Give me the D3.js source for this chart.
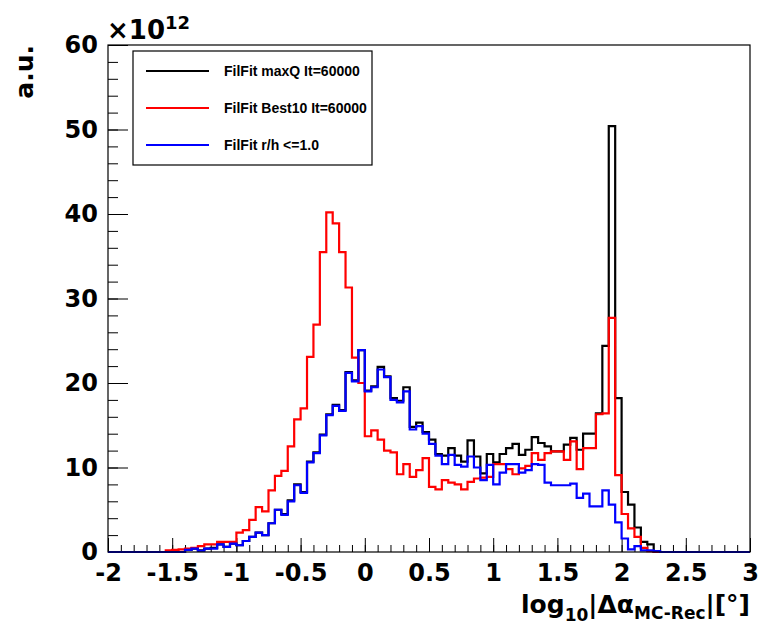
<!DOCTYPE html>
<html>
<head>
<meta charset="utf-8">
<script src="https://cdn.jsdelivr.net/npm/d3@7"></script>
<style>
  body { margin: 0; background: #fff; }
  text { font-weight: bold; }
</style>
</head>
<body>
<div id="chart"></div>
<script>
// binning of the histograms: 100 bins from -2 to 3
const xMin = -2, xMax = 3, nBins = 100;
const xTicks = [-2, -1.5, -1, -0.5, 0, 0.5, 1, 1.5, 2, 2.5, 3];
const yTicks = [0, 10, 20, 30, 40, 50, 60];
const seriesNames = ["FilFit maxQ It=60000", "FilFit Best10 It=60000", "FilFit r/h <=1.0"];
const seriesColors = ["#000000", "#ff0000", "#0000ff"];

// bin contents in units of 1e12
const maxQ = [
  0, 0, 0, 0, 0, 0, 0, 0, 0, 0,
  0, 0, 0.25, 0.4, 0.2, 0.4, 0.5, 0.9, 0.6, 1.0,
  0.8, 1.3, 1.8, 2.3, 2.0, 3.4, 5.0, 4.5, 6.1, 8.0,
  7.1, 10.7, 11.8, 13.9, 16.3, 17.4, 16.8, 21.3, 20.3, 23.9,
  19.1, 19.6, 21.9, 20.8, 18.2, 17.9, 19.5, 14.8, 15.3, 14.2,
  13.3, 11.6, 11.4, 12.3, 11.4, 10.7, 13.2, 11.3, 9.3, 11.6,
  10.6, 11.6, 12.3, 12.8, 11.5, 12.1, 13.6, 12.9, 12.5, 11.9,
  11.9, 12.7, 13.5, 12.1, 14.0, 14.0, 16.4, 24.4, 50.4, 18.2,
  7.1, 5.6, 2.9, 1.2, 0.9, 0, 0, 0, 0, 0,
  0, 0, 0, 0, 0, 0, 0, 0, 0, 0
];
const best10 = [
  0, 0, 0, 0, 0, 0, 0, 0, 0, 0.2,
  0.25, 0.3, 0.4, 0.5, 0.7, 0.9, 0.9, 1.2, 1.2, 1.2,
  2.3, 2.6, 3.8, 5.3, 4.8, 7.3, 9.0, 9.6, 12.5, 15.7,
  17.0, 23.1, 26.9, 35.5, 40.2, 38.9, 35.5, 31.3, 23.0, 20.0,
  13.7, 14.4, 13.3, 12.0, 11.8, 9.2, 10.4, 8.9, 9.7, 11.1,
  7.7, 7.4, 8.5, 8.2, 8.0, 7.4, 8.3, 8.7, 8.8, 8.9,
  10.4, 10.4, 9.8, 9.2, 9.9, 10.2, 11.7, 10.9, 11.7, 11.9,
  11.9, 10.9, 13.1, 9.8, 12.3, 12.3, 16.3, 16.4, 27.7, 9.1,
  4.5, 2.8, 1.8, 0.5, 0.1, 0, 0, 0, 0, 0,
  0, 0, 0, 0, 0, 0, 0, 0, 0, 0
];
const rh = [
  0, 0, 0, 0, 0, 0, 0, 0, 0, 0,
  0, 0, 0.25, 0.4, 0.15, 0.4, 0.4, 0.9, 0.6, 1.0,
  0.8, 1.3, 1.8, 2.3, 2.0, 3.4, 5.0, 4.4, 6.0, 7.9,
  7.0, 10.6, 11.7, 13.8, 16.2, 17.3, 16.7, 21.2, 20.2, 23.9,
  19.0, 19.5, 21.6, 20.7, 18.0, 17.7, 19.0, 14.5, 14.9, 14.0,
  12.8, 11.4, 10.4, 11.5, 10.3, 10.1, 11.3, 10.0, 8.5, 10.3,
  8.0, 9.4, 10.4, 10.4, 9.4, 9.7, 10.4, 10.3, 8.2, 7.9,
  7.9, 7.9, 8.1, 6.4, 6.9, 5.4, 5.4, 7.3, 5.6, 3.5,
  1.6, 0.3, 0.7, 0.2, 0.2, 0.1, 0, 0, 0, 0,
  0, 0, 0, 0, 0, 0, 0, 0, 0, 0
];
const series = [maxQ, best10, rh];

const bigFont = '"DejaVu Sans", sans-serif';
const legendFont = '"Liberation Sans", Arial, sans-serif';

const margin = {top: 45, right: 8, bottom: 78, left: 108},
    width = 758 - margin.left - margin.right,
    height = 630 - margin.top - margin.bottom;

const svg = d3.select("#chart")
    .append("svg")
    .attr("width", 758).attr("height", 630)
    .append("g")
    .attr("transform", `translate(${margin.left},${margin.top})`);

const x = d3.scaleLinear().domain([xMin, xMax]).range([0, width]);
const y = d3.scaleLinear().domain([0, 60]).range([height, 0]);
const binW = (xMax - xMin) / nBins;

// x axis: major ticks + labels, minor ticks
const xMinor = d3.range(xMin, xMax + 1e-9, 0.1);
svg.append("g")
    .attr("transform", `translate(0,${height})`)
    .call(d3.axisBottom(x).tickValues(xMinor).tickSize(-7).tickFormat(""))
    .call(g => g.select(".domain").remove());
svg.append("g")
    .attr("transform", `translate(0,${height})`)
    .call(d3.axisBottom(x).tickValues(xTicks).tickSize(-14).tickPadding(12).tickFormat(d => d))
    .call(g => g.select(".domain").remove())
    .call(g => g.selectAll("text").attr("fill", "#000")
        .style("font-size", "24px").style("font-family", bigFont).style("font-weight", "bold"));

// y axis
const yMinor = d3.range(0, 60.001, 2);
svg.append("g")
    .call(d3.axisLeft(y).tickValues(yMinor).tickSize(-10).tickFormat(""))
    .call(g => g.select(".domain").remove());
svg.append("g")
    .call(d3.axisLeft(y).tickValues(yTicks).tickSize(-20).tickPadding(10).tickFormat(d => d))
    .call(g => g.select(".domain").remove())
    .call(g => g.selectAll("text").attr("fill", "#000")
        .style("font-size", "24px").style("font-family", bigFont).style("font-weight", "bold"));

// histograms
const line = d3.line()
    .x(d => x(d[0]))
    .y(d => y(d[1]))
    .curve(d3.curveStepAfter);

series.forEach((vals, k) => {
  const pts = vals.map((v, i) => [xMin + i * binW, v]);
  pts.push([xMax, vals[vals.length - 1]]);
  svg.append("path")
      .datum(pts)
      .attr("fill", "none")
      .attr("stroke", seriesColors[k])
      .attr("stroke-width", 2.2)
      .attr("d", line);
});

// frame
svg.append("rect")
    .attr("width", width).attr("height", height)
    .attr("fill", "none").attr("stroke", "#000").attr("stroke-width", 1.2);

// exponent
svg.append("text")
    .attr("x", -1).attr("y", -6)
    .style("font-family", bigFont).style("font-size", "26px")
    .text("\u00d710")
  .append("tspan")
    .attr("dy", -10).style("font-size", "18px")
    .text("12");

// y title
svg.append("text")
    .attr("transform", "translate(-75,0) rotate(-90)")
    .attr("text-anchor", "end")
    .style("font-family", bigFont).style("font-size", "25px")
    .text("a.u.");

// x title
const xt = svg.append("text")
    .attr("x", width).attr("y", height + 61)
    .attr("text-anchor", "end")
    .style("font-family", bigFont).style("font-size", "25px");
xt.append("tspan").text("log");
xt.append("tspan").style("font-size", "17px").attr("dy", 8).text("10");
xt.append("tspan").attr("dy", -8).text("|\u0394\u03b1");
xt.append("tspan").style("font-size", "17px").attr("dy", 6).text("MC-Rec");
xt.append("tspan").attr("dy", -6).text("|[\u00b0]");

// legend
const lg = svg.append("g").attr("transform", `translate(${133 - margin.left},${51 - margin.top})`);
lg.append("rect")
    .attr("width", 239).attr("height", 114)
    .attr("fill", "#fff").attr("stroke", "#000").attr("stroke-width", 1.2);
seriesNames.forEach((name, k) => {
  const cy = 20 + k * 37;
  lg.append("line")
      .attr("x1", 13).attr("x2", 76).attr("y1", cy).attr("y2", cy)
      .attr("stroke", seriesColors[k]).attr("stroke-width", 2.2);
  lg.append("text")
      .attr("x", 91).attr("y", cy).attr("dy", "0.36em")
      .style("font-family", legendFont)
      .style("font-size", "14px")
      .text(name);
});
</script>
</body>
</html>
